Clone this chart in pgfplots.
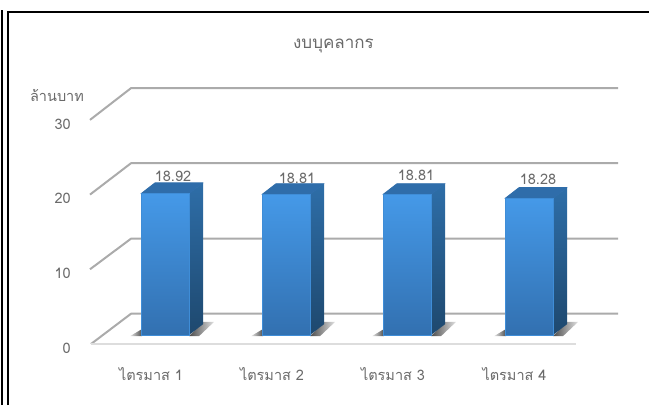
\documentclass[border=0pt]{standalone}
\usepackage{fontspec}
\setmainfont[Script=Thai]{Loma}
\usepackage{pgfplots}
\pgfplotsset{compat=1.18}
\definecolor{txt}{HTML}{6A6A6A}
\definecolor{gridc}{HTML}{ABABAB}
\definecolor{floorc}{HTML}{DDDDDD}
\definecolor{ftop}{HTML}{4599E8}
\definecolor{fbot}{HTML}{3270B0}
\definecolor{stop}{HTML}{2E6EA8}
\definecolor{sbot}{HTML}{1E486E}
\definecolor{ttop}{HTML}{2F6DAA}
% #1 left edge of the front face (px), #2 value, #3 label x, #4 label y (px)
\newcommand{\tdbar}[4]{%
  \pgfmathsetmacro{\xl}{#1}%
  \pgfmathsetmacro{\xr}{#1+48}%
  \pgfmathsetmacro{\xb}{#1+62}%
  \pgfmathsetmacro{\xlb}{#1+14}%
  \pgfmathsetmacro{\yb}{1.2}%
  \pgfmathsetmacro{\ybb}{1.2+1.45}%
  \pgfmathsetmacro{\yt}{1.2+#2}%
  \pgfmathsetmacro{\ytb}{1.2+#2+1.45}%
  \pgfmathsetmacro{\sa}{#1-11}%
  \pgfmathsetmacro{\sb}{#1+1}%
  \pgfmathsetmacro{\sc}{#1+73}%
  \pgfmathsetmacro{\sd}{#1+58}%
  % shadow on the floor
  \addplot[draw=none, left color=black!10, right color=black!70] coordinates {(\sa,1.05) (\sb,2.0) (\sb,1.05)} --cycle;
  \addplot[draw=none, left color=black!70, right color=black!12] coordinates {(\xr,1.05) (\xb,2.95) (\sc,2.95) (\sd,1.05)} --cycle;
  % side
  \addplot[draw=none, top color=stop, bottom color=sbot] coordinates {(\xr,\yb) (\xb,\ybb) (\xb,\ytb) (\xr,\yt)} --cycle;
  % top
  \addplot[draw=ttop, fill=ttop, line width=0.8pt, line join=round] coordinates {(\xl,\yt) (\xlb,\ytb) (\xb,\ytb) (\xr,\yt)} --cycle;
  % front
  \addplot[draw=ftop!70!fbot, line width=0.4pt, top color=ftop, bottom color=fbot] coordinates {(\xl,\yb) (\xl,\yt) (\xr,\yt) (\xr,\yb)} --cycle;
  \node[text=txt, font=\fontsize{14.5}{15}\selectfont, anchor=center, inner sep=0pt] at (axis cs:#3,{(344-#4)/7.47}) {#2};
}
\begin{document}
\begin{tikzpicture}
\begin{axis}[
  scale only axis, width=649pt, height=405pt,
  xmin=0, xmax=649, ymin=-8.166, ymax=46.05,
  axis line style={draw=none}, major tick style={draw=none},
  ymajorgrids=false,
  ytick={0,10,20,30},
  xtick={151,272,393,514.5},
  xticklabels={ไตรมาส 1,ไตรมาส 2,ไตรมาส 3,ไตรมาส 4},
  /pgf/number format/assume math mode=true,
  tick label style={text=txt, font=\fontsize{14.5}{15}\selectfont},
  yticklabel style={anchor=east, inner sep=0pt, xshift=71pt, yshift=-4pt},
  xticklabel style={anchor=center, inner sep=0pt, yshift=31pt},
  title={งบบุคลากร},
  title style={at={(axis description cs:0.5139,0.872)}, anchor=center, text=txt, font=\fontsize{17}{18}\selectfont, inner sep=0pt},
  ylabel={ล้านบาท},
  ylabel style={at={(axis description cs:0.0878,0.765)}, anchor=center, rotate=-90, text=txt, font=\fontsize{14.5}{15}\selectfont, inner sep=0pt},
]
% frame
\draw[black, line width=1.6pt] (axis cs:2,{(344-405)/7.47}) -- (axis cs:2,{(344-10)/7.47});
\draw[black, line width=1.6pt] (axis cs:8,{(344-405)/7.47}) -- (axis cs:8,{(344-12)/7.47}) -- (axis cs:649,{(344-12)/7.47});
% walls
\addplot[gridc, line width=2pt, line join=round] coordinates {(90,30) (131,34.25) (618,34.25)};
\addplot[gridc, line width=2pt, line join=round] coordinates {(90,20) (131,24.2) (618,24.2)};
\addplot[gridc, line width=2pt, line join=round] coordinates {(90,10) (131,14.1) (618,14.1)};
\addplot[gridc, line width=2pt, line join=round] coordinates {(91,0) (131,4.05) (618,4.05)};
\addplot[floorc, line width=2.2pt] coordinates {(91,0) (576,0)};
% bars
\tdbar{141}{18.92}{173}{176}
\tdbar{262}{18.81}{297}{178}
\tdbar{383}{18.81}{416}{175}
\tdbar{505}{18.28}{538}{179}
\end{axis}
\end{tikzpicture}
\end{document}
